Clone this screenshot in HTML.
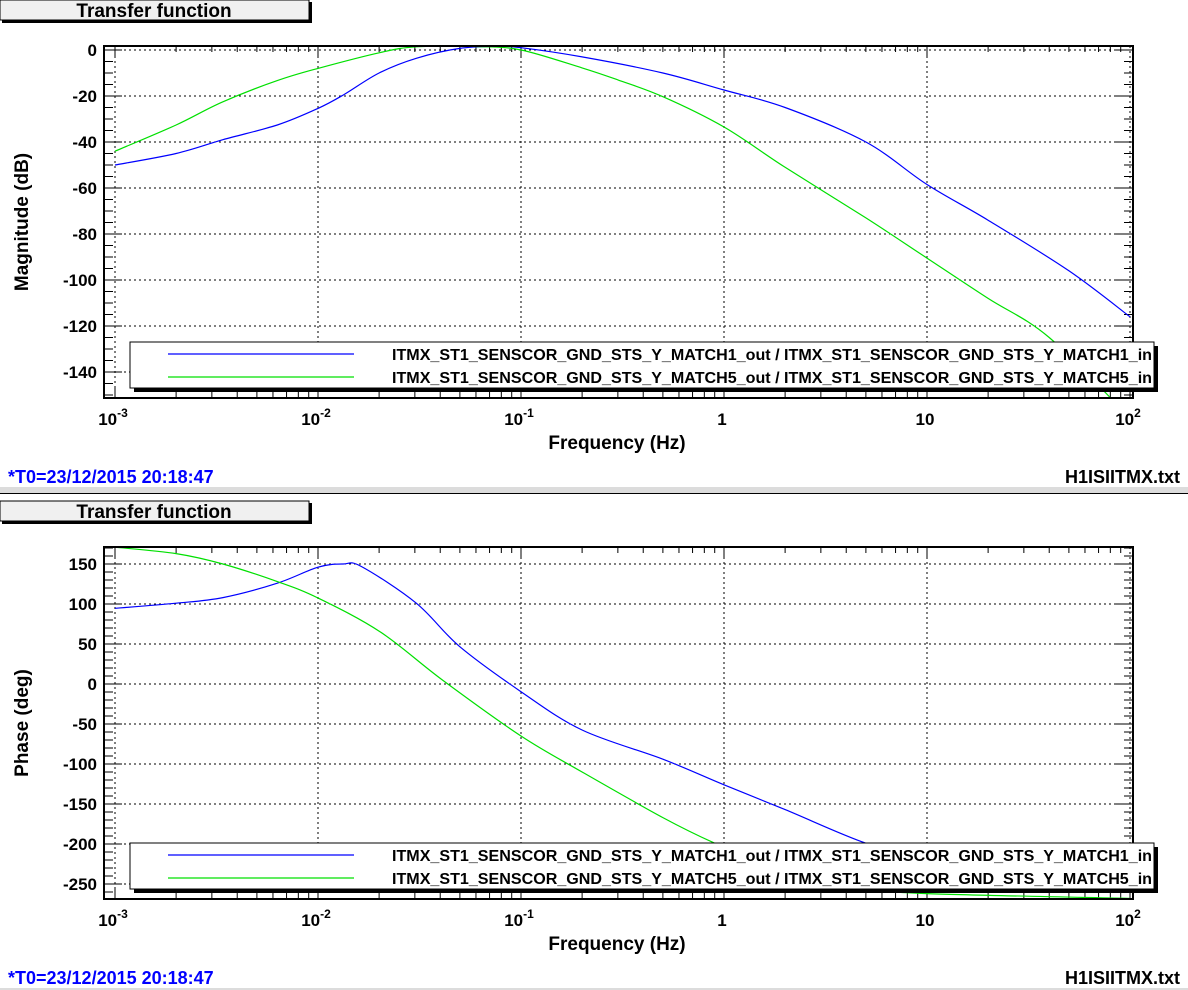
<!DOCTYPE html>
<html><head><meta charset="utf-8"><style>
html,body{margin:0;padding:0;background:#fff;}
svg{display:block;font-family:"Liberation Sans",sans-serif;}
</style></head><body>
<svg id="root" width="1188" height="990" xmlns="http://www.w3.org/2000/svg"></svg>
<script>
// ---- data ----
const magFreq = [0.001,0.002,0.0034,0.0063,0.01,0.0133,0.02,0.0305,0.05,0.077,0.1,0.2,0.5,1,2,5,10,20,50,100];
const magBlue = [-50,-45,-39,-32.6,-25.4,-19.6,-10,-3.6,0.7,1.5,1,-3,-10,-17.4,-25,-40,-58.5,-74,-96,-116];
const greenMagFreq = [0.001,0.002,0.0034,0.0063,0.01,0.02,0.0305,0.06,0.1,0.2,0.3,0.5,1,2,5,10,20,40,100];
const magGreen = [-44,-32.6,-22.5,-13.3,-8,-1.2,1.4,1.5,0,-7.8,-13,-20.3,-33.5,-51,-73,-90.5,-108,-125,-160];
const phaseFreq = [0.001,0.002,0.0034,0.0063,0.01,0.0133,0.0164,0.0305,0.0498,0.1,0.2,0.5,1,2,5,10,20,50,100];
const phaseBlue = [94.6,101,108,126,146,150,146.7,101,47,-9.6,-57.5,-94,-126,-157,-199,-218,-234,-248,-257];
const greenPhaseFreq = [0.001,0.002,0.0034,0.0063,0.01,0.0203,0.041,0.1,0.2,0.5,0.9,2,5,10,100];
const phaseGreen = [171,163,150,128,107.5,65,5,-65,-110,-167,-199,-236,-255,-262,-268];
const magTicks = [0,-20,-40,-60,-80,-100,-120,-140];
const phaseTicks = [150,100,50,0,-50,-100,-150,-200,-250];
const xTickExp = [-3,-2,-1,0,1,2];
const legendLabels = ["ITMX_ST1_SENSCOR_GND_STS_Y_MATCH1_out / ITMX_ST1_SENSCOR_GND_STS_Y_MATCH1_in",
                      "ITMX_ST1_SENSCOR_GND_STS_Y_MATCH5_out / ITMX_ST1_SENSCOR_GND_STS_Y_MATCH5_in"];

const NS="http://www.w3.org/2000/svg";
const root=document.getElementById('root');
function mk(tag,attrs,parent){const e=document.createElementNS(NS,tag);for(const k in attrs)e.setAttribute(k,attrs[k]);(parent||root).appendChild(e);return e;}

const FL=104, FR=1133, X0=115, DEC=203.0;
function xs(f){return X0+(Math.log10(f)+3)*DEC;}

function smoothPath(pts){
  let d='M'+pts[0][0].toFixed(1)+','+pts[0][1].toFixed(1);
  for(let i=0;i<pts.length-1;i++){
    const p0=pts[Math.max(0,i-1)],p1=pts[i],p2=pts[i+1],p3=pts[Math.min(pts.length-1,i+2)];
    const c1=[p1[0]+(p2[0]-p0[0])/6,p1[1]+(p2[1]-p0[1])/6];
    const c2=[p2[0]-(p3[0]-p1[0])/6,p2[1]-(p3[1]-p1[1])/6];
    d+=' C'+c1[0].toFixed(1)+','+c1[1].toFixed(1)+' '+c2[0].toFixed(1)+','+c2[1].toFixed(1)+' '+p2[0].toFixed(1)+','+p2[1].toFixed(1);
  }
  return d;
}

function panel(off, opt){
  const g=mk('g',{transform:'translate(0,'+off+')'});
  
  
  const FT=46, FB=398;
  const ys=v=>opt.y0+(opt.yRef-v)*opt.ppu;
  const tb=mk('g',{},g);
  
  
  mk('rect',{x:2,y:2,width:310,height:21,fill:'#000'},tb);
  mk('rect',{x:0,y:0,width:309,height:20,fill:'#f0f0f0',stroke:'#000','stroke-width':1},tb);
  const tt=mk('text',{x:154,y:17,'text-anchor':'middle','font-size':19,'font-weight':'bold'},tb);tt.textContent='Transfer function';
  const clipId='clip'+off;
  const cp=mk('clipPath',{id:clipId},g);mk('rect',{x:FL,y:FT,width:FR-FL,height:FB-FT},cp);
  xTickExp.forEach(e=>{const x=xs(Math.pow(10,e));mk('line',{x1:x,x2:x,y1:FT,y2:FB,stroke:'#000','stroke-width':1,'stroke-dasharray':'2,3'},g);});
  opt.ticks.forEach(v=>{const y=ys(v);mk('line',{x1:FL,x2:FR,y1:y,y2:y,stroke:'#000','stroke-width':1,'stroke-dasharray':'2,3'},g);});
  for(let e=-3;e<2;e++){for(let m=1;m<10;m++){const x=xs(m*Math.pow(10,e));const L=m==1?12:6;
    mk('line',{x1:x,x2:x,y1:FB,y2:FB-L,stroke:'#000'},g);mk('line',{x1:x,x2:x,y1:FT,y2:FT+L,stroke:'#000'},g);}}
  mk('line',{x1:xs(100),x2:xs(100),y1:FB,y2:FB-12,stroke:'#000'},g);
  const st=opt.minor;
  for(let v=opt.ymin;v<=opt.ymax;v+=st){const y=ys(v);if(y<FT||y>FB)continue;const maj=Math.abs(v%opt.major)<1e-6;const L=maj?18:9;
    mk('line',{x1:FL,x2:FL+L,y1:y,y2:y,stroke:'#000'},g);mk('line',{x1:FR,x2:FR-L,y1:y,y2:y,stroke:'#000'},g);}
  opt.ticks.forEach(v=>{const t=mk('text',{x:97,y:ys(v)+6,'text-anchor':'end','font-size':17,'font-weight':'bold'},g);t.textContent=String(v);
    });
  xTickExp.forEach(e=>{const x=xs(Math.pow(10,e));const t=mk('text',{x:x-2,y:425,'text-anchor':'middle','font-size':17,'font-weight':'bold'},g);
    
    if(e===0)t.textContent='1';else if(e===1)t.textContent='10';else{t.textContent='10';const s=mk('tspan',{dy:-8,'font-size':12},t);s.textContent=String(e);}});
  const cg=mk('g',{'clip-path':'url(#'+clipId+')'},g);
  opt.series.forEach(s=>{const p=mk('path',{d:smoothPath(s.f.map((f,i)=>[xs(f),ys(s.v[i])])),fill:'none',stroke:s.c,'stroke-width':1.2},cg);
    });
  const fr=mk('rect',{x:FL,y:FT,width:FR-FL,height:FB-FT,fill:'none',stroke:'#000','stroke-width':2},g);
  
  const lg=mk('g',{},g);
  mk('rect',{x:134,y:346,width:1024,height:46,fill:'#000'},lg);
  mk('rect',{x:130,y:342,width:1024,height:46,fill:'#fff',stroke:'#000','stroke-width':1},lg);
  const cols=['#0000ff','#00e000'];
  legendLabels.forEach((l,i)=>{const y=354+i*23;mk('line',{x1:168,x2:354,y1:y,y2:y,stroke:cols[i],'stroke-width':1.2},lg);
    const t=mk('text',{x:392,y:y+6,'font-size':16,'font-weight':'bold',textLength:760,lengthAdjust:'spacingAndGlyphs'},lg);t.textContent=l;
    });
  const xt=mk('text',{x:617,y:449,'text-anchor':'middle','font-size':19,'font-weight':'bold'},g);xt.textContent='Frequency (Hz)';
  
  const yt=mk('text',{x:0,y:0,transform:'translate(28,222) rotate(-90)','text-anchor':'middle','font-size':19,'font-weight':'bold'},g);yt.textContent=opt.ytitle;
  
  const f1=mk('text',{x:8,y:483,'font-size':18,'font-weight':'bold',fill:'#0000ff'},g);f1.textContent='*T0=23/12/2015 20:18:47';
  
  const f2=mk('text',{x:1180,y:483,'text-anchor':'end','font-size':18,'font-weight':'bold'},g);f2.textContent='H1ISIITMX.txt';
  
  mk('rect',{x:0,y:487,width:1188,height:6,fill:'#dcdcdc'},g);
  mk('line',{x1:0,x2:1188,y1:493.5,y2:493.5,stroke:'#000'},g);
}
panel(0,{name:'magnitude-panel',y0:50,yRef:0,ppu:2.3,ticks:magTicks,ymin:-150,ymax:2,minor:5,major:20,ytitle:'Magnitude (dB)',
  series:[{f:magFreq,v:magBlue,c:'#0000ff',name:'magnitude-match1'},{f:greenMagFreq,v:magGreen,c:'#00e000',name:'magnitude-match5'}]});
panel(501,{name:'phase-panel',y0:63,yRef:150,ppu:0.8,ticks:phaseTicks,ymin:-260,ymax:170,minor:10,major:50,ytitle:'Phase (deg)',
  series:[{f:phaseFreq,v:phaseBlue,c:'#0000ff',name:'phase-match1'},{f:greenPhaseFreq,v:phaseGreen,c:'#00e000',name:'phase-match5'}]});
</script>
</body></html>
